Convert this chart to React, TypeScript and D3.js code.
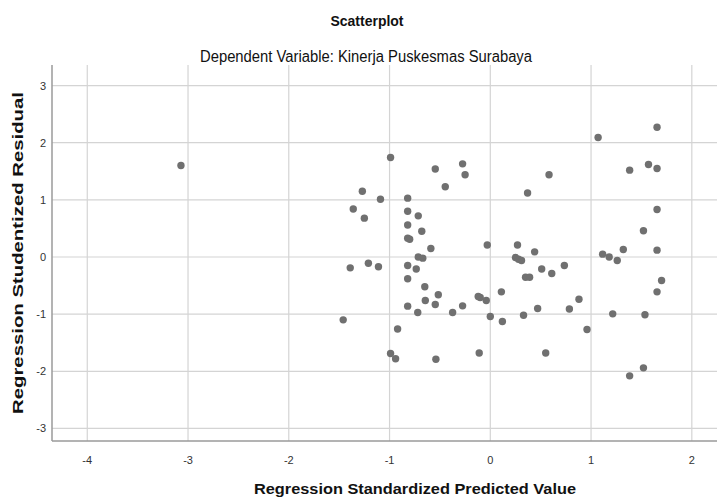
import React from 'react';
import * as d3 from 'd3';

// Regression standardized predicted value (x) and studentized residual (y)
const predicted = [
  -3.07, -1.36, -1.39, -1.46, -0.99, -0.546, -0.275, -0.25, -0.447, -1.27,
  -1.09, -0.82, -1.25, -0.82, -0.715, -0.82, -0.68, -0.82, -0.8, -0.59,
  -0.03, -0.715, -0.67, -1.21, -1.11, -0.82, -0.735, -0.82, -0.65, -0.516,
  -0.645, -0.546, -0.82, -0.72, -0.374, -0.275, -0.12, -0.1, -0.04, 0.11,
  0.0, 0.12, -0.92, -0.99, -0.94, -0.54, -0.11, 1.655, 1.07, 0.583,
  0.37, 1.383, 1.57, 1.655, 1.655, 1.52, 1.655, 1.32, 1.115, 1.18,
  1.26, 0.27, 0.44, 0.25, 0.28, 0.31, 0.51, 0.61, 0.735, 0.35,
  0.39, 0.88, 0.785, 0.47, 0.33, 0.96, 0.55, 1.215, 1.535, 1.7,
  1.655, 1.52, 1.383,
];
const residual = [
  1.6, 0.84, -0.19, -1.1, 1.74, 1.54, 1.63, 1.44, 1.23, 1.15,
  1.01, 1.03, 0.68, 0.8, 0.72, 0.56, 0.45, 0.33, 0.31, 0.15,
  0.21, 0.0, -0.02, -0.11, -0.17, -0.15, -0.21, -0.38, -0.52, -0.66,
  -0.76, -0.83, -0.86, -0.97, -0.97, -0.855, -0.69, -0.71, -0.76, -0.61,
  -1.04, -1.13, -1.26, -1.69, -1.78, -1.79, -1.68, 2.27, 2.09, 1.44,
  1.12, 1.52, 1.62, 1.55, 0.83, 0.46, 0.12, 0.13, 0.05, 0.0,
  -0.06, 0.21, 0.09, -0.01, -0.04, -0.06, -0.21, -0.29, -0.15, -0.355,
  -0.355, -0.74, -0.91, -0.9, -1.02, -1.27, -1.68, -0.995, -1.01, -0.41,
  -0.61, -1.94, -2.08,
];
const xTicks = [-4, -3, -2, -1, 0, 1, 2];
const yTicks = [-3, -2, -1, 0, 1, 2, 3];

const title = 'Scatterplot';
const subtitle = 'Dependent Variable: Kinerja Puskesmas Surabaya';
const xLabel = 'Regression Standardized Predicted Value';
const yLabel = 'Regression Studentized Residual';

const W = 717;
const H = 497;
const margin = { top: 65, right: 0, bottom: 56, left: 52 };
const font = '"Liberation Sans", Arial, sans-serif';

export default function App() {
  const x = d3.scaleLinear().domain([-4.35, 2.25]).range([margin.left, W - margin.right]);
  const y = d3.scaleLinear().domain([-3.22, 3.36]).range([H - margin.bottom, margin.top]);
  const points = d3.zip(predicted, residual);

  const x0 = margin.left;
  const x1 = W - margin.right;
  const y0 = H - margin.bottom;
  const y1 = margin.top;

  return (
    <div style={{ position: 'absolute', left: 0, top: 0 }}>
      <svg width={W} height={H} style={{ display: 'block', background: '#fff' }} fontFamily={font}>
        {/* condensed look of the original font via textLength */}
        <text x={367} y={26} textAnchor="middle" fontSize={15} fontWeight="bold" fill="#111"
          textLength={73} lengthAdjust="spacingAndGlyphs">
          {title}
        </text>
        <text x={366} y={62} textAnchor="middle" fontSize={16} fill="#111"
          textLength={332} lengthAdjust="spacingAndGlyphs">
          {subtitle}
        </text>

        {/* grid */}
        <g stroke="#d4d4d4" strokeWidth={1.2}>
          {xTicks.map((t) => (
            <line key={'gx' + t} x1={x(t)} x2={x(t)} y1={y1} y2={y0} />
          ))}
          {yTicks.map((t) => (
            <line key={'gy' + t} x1={x0} x2={x1} y1={y(t)} y2={y(t)} />
          ))}
        </g>

        {/* axes */}
        <line x1={x0} x2={x0} y1={y1} y2={y0} stroke="#9a9a9a" strokeWidth={1.5} />
        <line x1={x0} x2={x1} y1={y0} y2={y0} stroke="#9a9a9a" strokeWidth={1.5} />

        <g fontSize={11} fill="#333">
          {xTicks.map((t) => (
            <text key={'tx' + t} x={x(t)} y={y0 + 23} textAnchor="middle">
              {t}
            </text>
          ))}
          {yTicks.map((t) => (
            <text key={'ty' + t} x={x0 - 6} y={y(t) + 4} textAnchor="end">
              {t}
            </text>
          ))}
        </g>

        {/* points */}
        <g fill="#707070">
          {points.map(([px, py], i) => (
            <circle key={i} cx={x(px)} cy={y(py)} r={3.7} />
          ))}
        </g>

        <text x={415} y={494} textAnchor="middle" fontSize={15} fontWeight="bold" fill="#111"
          textLength={322} lengthAdjust="spacingAndGlyphs">
          {xLabel}
        </text>
        <text
          transform={`translate(23,${(y0 + y1) / 2}) rotate(-90)`}
          textAnchor="middle"
          fontSize={15}
          fontWeight="bold"
          fill="#111"
          textLength={322}
          lengthAdjust="spacingAndGlyphs"
        >
          {yLabel}
        </text>
      </svg>
    </div>
  );
}
